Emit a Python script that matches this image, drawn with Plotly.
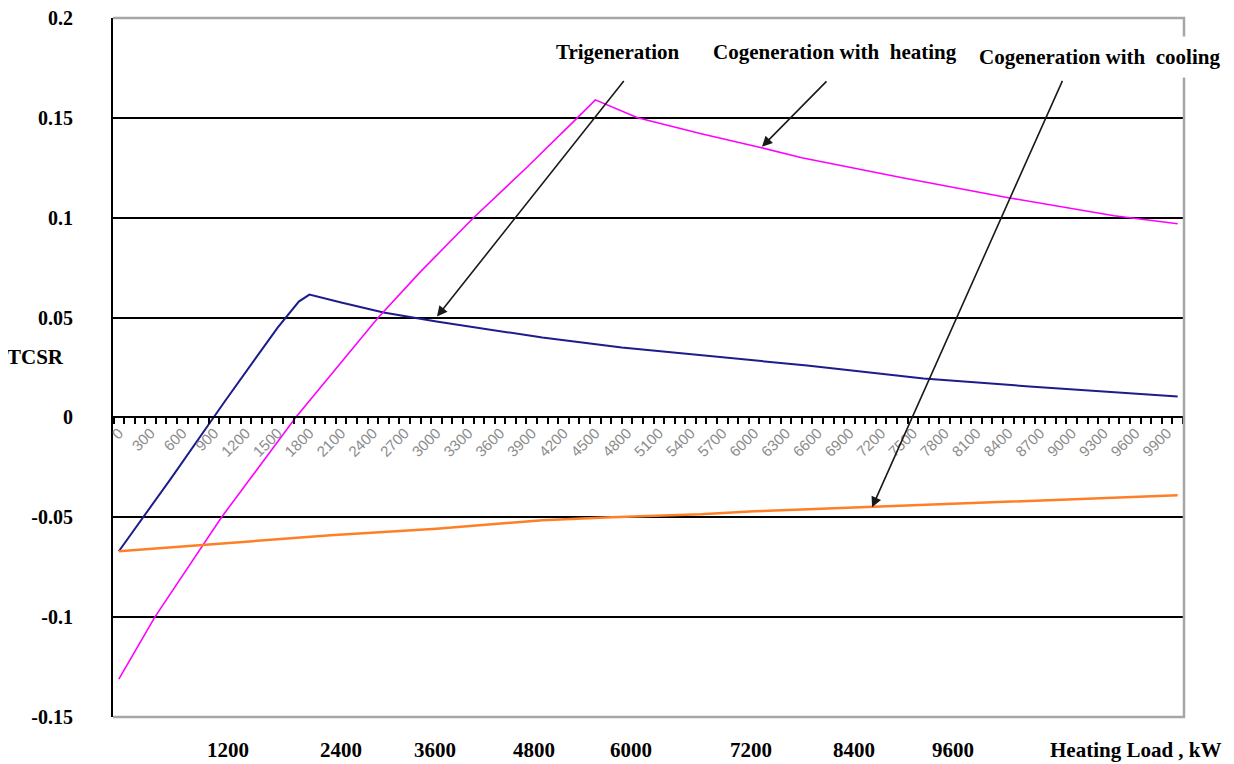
import plotly.graph_objects as go

# ---- data ----
trigen_load = [0, 500, 1000, 1500, 1700, 1800, 2100, 2500, 3000, 4000, 4750, 5500, 6500, 7600, 8600, 10000]
trigen_tcsr = [-0.067, -0.030, 0.008, 0.045, 0.058, 0.0615, 0.0575, 0.0525, 0.048, 0.040, 0.035, 0.031, 0.026, 0.0195, 0.0155, 0.0105]

heating_load = [0, 340, 970, 1670, 2450, 2850, 3350, 3850, 4330, 4500, 4900, 5500, 6070, 6450, 7400, 8400, 9400, 10000]
heating_tcsr = [-0.131, -0.100, -0.050, 0.000, 0.050, 0.073, 0.100, 0.125, 0.150, 0.159, 0.150, 0.142, 0.135, 0.130, 0.120, 0.110, 0.101, 0.097]

cooling_load = [0, 500, 1000, 1500, 2000, 3000, 4000, 4650, 5500, 6000, 7000, 8000, 9000, 10000]
cooling_tcsr = [-0.067, -0.065, -0.063, -0.061, -0.059, -0.0557, -0.0515, -0.050, -0.0485, -0.047, -0.045, -0.043, -0.041, -0.039]

x_tick_vals = list(range(0, 10000, 300))
x_tick_text = [str(v) for v in x_tick_vals]
y_tick_vals = [-0.15, -0.1, -0.05, 0, 0.05, 0.1, 0.15, 0.2]
y_tick_text = ["-0.15", "-0.1", "-0.05", "0", "0.05", "0.1", "0.15", "0.2"]
bottom_labels = ["1200", "2400", "3600", "4800", "6000", "7200", "8400", "9600"]

SERIF = "Liberation Serif, Times New Roman, serif"
bold20 = dict(family=SERIF, size=20, color="black", weight="bold")
bold21 = dict(family=SERIF, size=21, color="black", weight="bold")

fig = go.Figure()
fig.add_trace(go.Scatter(x=trigen_load, y=trigen_tcsr, mode="lines",
                         line=dict(color="#1c1c8c", width=2), name="Trigeneration"))
fig.add_trace(go.Scatter(x=heating_load, y=heating_tcsr, mode="lines",
                         line=dict(color="#ff00ff", width=1.6), name="Cogeneration with heating"))
fig.add_trace(go.Scatter(x=cooling_load, y=cooling_tcsr, mode="lines",
                         line=dict(color="#ff7f27", width=2.5), name="Cogeneration with cooling"))

# the page body adds an 8 px offset, margins compensate for it
fig.update_layout(
    width=1234, height=764,
    margin=dict(l=105, r=58, t=10, b=55),
    paper_bgcolor="white", plot_bgcolor="white",
    showlegend=False,
    xaxis=dict(
        range=[-55, 10060], anchor="free", position=0.15 / 0.35, automargin=False,
        tickmode="array", tickvals=x_tick_vals, ticktext=x_tick_text,
        tickangle=-45, tickfont=dict(family="Liberation Sans, Arial, sans-serif", size=15, color="#8c8c8c"),
        ticks="", showgrid=False, zeroline=False, ticklabeloverflow="allow",
        showline=True, linecolor="black", linewidth=2,
        minor=dict(tick0=50, dtick=100, ticks="outside", ticklen=6, tickwidth=1.5,
                   tickcolor="black", showgrid=False),
    ),
    yaxis=dict(
        range=[-0.15, 0.2], tickmode="array", tickvals=y_tick_vals, ticktext=y_tick_text,
        tickfont=bold20, ticklabelstandoff=34, automargin=False, ticklabeloverflow="allow",
        showgrid=True, gridcolor="black", gridwidth=2,
        zeroline=False, ticks="", showline=True, linecolor="black", linewidth=2,
    ),
)

# gray border on top, right and bottom
fig.add_shape(type="path", xref="paper", yref="paper",
              path="M 0,1 L 1,1 L 1,0 L 0,0", line=dict(color="#a6a6a6", width=2.5), layer="above")

txt = dict(xref="paper", yref="paper", showarrow=False, font=bold21, xanchor="center", yanchor="middle")

# axis title texts
fig.add_annotation(text="TCSR", x=-0.0719, y=0.515, **txt)
bottom_pos = [0.1074, 0.2129, 0.3007, 0.3931, 0.4837, 0.5957, 0.6919, 0.7843]
for lab, px in zip(bottom_labels, bottom_pos):
    fig.add_annotation(text=lab, x=px, y=-0.047, **txt)
fig.add_annotation(text="Heating Load , kW", x=0.9552, y=-0.047, **txt)

# series labels
fig.add_annotation(text="Trigeneration", x=0.4715, y=0.9514, **txt)
fig.add_annotation(text="Cogeneration with\u00a0 heating", x=0.6741, y=0.9514, **txt)
fig.add_annotation(text="Cogeneration with\u00a0 cooling", x=0.9211, y=0.9442,
                   bgcolor="white", borderpad=8, **txt)

# arrows pointing to the curves
arrow_style = dict(showarrow=True, arrowhead=2, arrowsize=1.3, arrowwidth=1.6, arrowcolor="#1a1a1a", text="")
fig.add_annotation(x=3005, y=0.0505, xref="x", yref="y", ax=188, ay=-237, **arrow_style)
fig.add_annotation(x=6074, y=0.1355, xref="x", yref="y", ax=66, ay=-67, **arrow_style)
fig.add_annotation(x=7114, y=-0.045, xref="x", yref="y", ax=191, ay=-428, **arrow_style)

fig.write_html("out.html")
